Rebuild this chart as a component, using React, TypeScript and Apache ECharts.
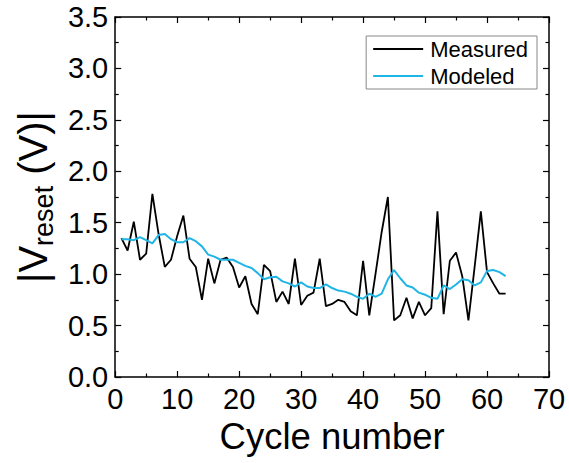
import React, { useEffect, useRef } from "react";
import * as echarts from "echarts";

const seriesNames = ["Measured", "Modeled"];

const measured = [
  1.35, 1.23, 1.51, 1.14, 1.2, 1.78, 1.39, 1.07, 1.14, 1.37,
  1.57, 1.15, 1.07, 0.75, 1.15, 0.91, 1.14, 1.16, 1.07, 0.87,
  0.98, 0.71, 0.61, 1.09, 1.03, 0.73, 0.83, 0.71, 1.15, 0.7,
  0.79, 0.82, 1.15, 0.69, 0.71, 0.75, 0.73, 0.64, 0.6, 1.13,
  0.6, 1.0, 1.41, 1.75, 0.55, 0.6, 0.77, 0.57, 0.73, 0.6,
  0.67, 1.61, 0.61, 1.13, 1.21, 0.98, 0.55, 1.07, 1.61, 1.02,
  0.91, 0.81, 0.81,
];

const modeled = [
  1.34, 1.34, 1.33, 1.36, 1.33, 1.3, 1.38, 1.39, 1.34, 1.31,
  1.31, 1.35, 1.32, 1.27, 1.19, 1.17, 1.14, 1.14, 1.14, 1.11,
  1.08, 1.06, 1.01, 0.95, 0.97, 0.975, 0.93, 0.91, 0.88, 0.92,
  0.88, 0.865, 0.865, 0.9, 0.865, 0.84, 0.83, 0.81, 0.78, 0.76,
  0.81, 0.78, 0.81, 0.95, 1.04, 0.96, 0.89, 0.87, 0.82, 0.8,
  0.77, 0.76, 0.89, 0.855, 0.9, 0.95, 0.94, 0.89, 0.92, 1.03,
  1.04, 1.02, 0.98,
];

const xMin = 0, xMax = 70, xStep = 10;
const yMin = 0, yMax = 3.5, yStep = 0.5;

const FONT = 'Arial, "Liberation Sans", sans-serif';

export default function App() {
  const ref = useRef<HTMLDivElement>(null);
  useEffect(() => {
    if (!ref.current) return;
    const chart = echarts.init(ref.current, undefined, { renderer: "svg" });
    const axisLine = { show: true, onZero: false, lineStyle: { color: "#000", width: 1.5 } };
    const axisTick = { show: true, inside: true, length: 6, lineStyle: { color: "#000", width: 1.2 } };
    const minorTick = { show: true, splitNumber: 2, length: 3.5, lineStyle: { color: "#000", width: 1.2 } };
    const toPairs = (arr: number[]) => arr.map((v, i) => [i + 1, v]);
    chart.setOption({
      animation: false,
      backgroundColor: "#fff",
      grid: { left: 107, right: 20, top: 17, bottom: 86, containLabel: false },
      legend: {
        orient: "vertical",
        right: 32,
        top: 36,
        data: seriesNames,
        icon: "rect",
        itemWidth: 50,
        itemHeight: 2,
        itemGap: 5,
        padding: [2, 9, 2, 7],
        borderColor: "#888",
        borderWidth: 1,
        textStyle: { fontFamily: FONT, fontSize: 22, lineHeight: 22, color: "#000", padding: [0, 0, 0, 2] },
      },
      xAxis: [
        {
          type: "value",
          position: "bottom",
          min: xMin,
          max: xMax,
          interval: xStep,
          name: "Cycle number",
          nameLocation: "middle",
          nameGap: 38,
          nameTextStyle: { fontFamily: FONT, fontSize: 36.5, color: "#000" },
          axisLine,
          axisTick,
          minorTick,
          splitLine: { show: false },
          axisLabel: { margin: 7, fontFamily: FONT, fontSize: 29, color: "#000" },
        },
        {
          type: "value",
          position: "top",
          min: xMin,
          max: xMax,
          interval: xStep,
          axisLine,
          axisTick,
          minorTick,
          splitLine: { show: false },
          axisLabel: { show: false },
        },
      ],
      yAxis: [
        {
          type: "value",
          position: "left",
          min: yMin,
          max: yMax,
          interval: yStep,
          name: "{a||V}{b|reset}{a| (V)|}",
          nameLocation: "middle",
          nameGap: 46,
          nameTextStyle: {
            fontFamily: FONT,
            fontSize: 40,
            color: "#000",
            rich: {
              a: { fontFamily: FONT, fontSize: 40, lineHeight: 44, color: "#000" },
              b: { fontFamily: FONT, fontSize: 27, lineHeight: 28, padding: [22, 0, 0, 0], color: "#000" },
            },
          },
          axisLine,
          axisTick,
          minorTick,
          splitLine: { show: false },
          axisLabel: {
            margin: 7,
            fontFamily: FONT,
            fontSize: 29,
            color: "#000",
            formatter: (v: number) => v.toFixed(1),
          },
        },
        {
          type: "value",
          position: "right",
          min: yMin,
          max: yMax,
          interval: yStep,
          axisLine,
          axisTick,
          minorTick,
          splitLine: { show: false },
          axisLabel: { show: false },
        },
      ],
      series: [
        {
          name: seriesNames[0],
          type: "line",
          xAxisIndex: 0,
          yAxisIndex: 0,
          data: toPairs(measured),
          symbol: "none",
          lineStyle: { color: "#000", width: 1.8 },
          itemStyle: { color: "#000" },
          z: 2,
        },
        {
          name: seriesNames[1],
          type: "line",
          xAxisIndex: 0,
          yAxisIndex: 0,
          data: toPairs(modeled),
          symbol: "none",
          lineStyle: { color: "#1fb5e6", width: 2 },
          itemStyle: { color: "#1fb5e6" },
          z: 3,
        },
      ],
    });
    return () => chart.dispose();
  }, []);
  return (
    <div
      ref={ref}
      style={{ position: "absolute", left: 0, top: 0, width: 569, height: 463 }}
    />
  );
}
